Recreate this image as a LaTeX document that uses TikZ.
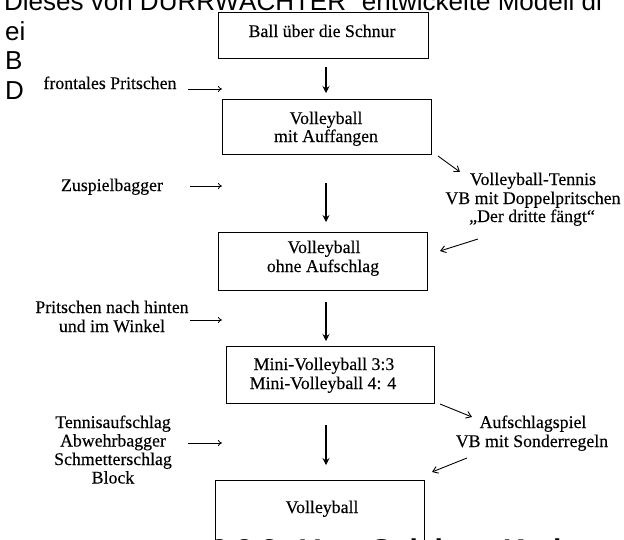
\documentclass[tikz,border=0pt]{standalone}
\usepackage{fontspec}
\setmainfont{Liberation Serif}
\newfontfamily\lblfont{Liberation Serif}[FakeBold=0.25]
\newfontfamily\docsans{Liberation Sans}
\usetikzlibrary{arrows.meta}
\begin{document}
\begin{tikzpicture}[x=1pt,y=-1pt,
  box/.style={draw=black, line width=0.8pt, fill=white, inner sep=0pt, anchor=north west},
  lbl/.style={font=\lblfont\fontsize{17.8}{19}\selectfont, inner sep=0pt, anchor=base},
  doc/.style={font=\docsans\fontsize{26}{30}\selectfont, inner sep=0pt, anchor=base west},
  head/.style={font=\docsans\bfseries\fontsize{30}{34}\selectfont, inner sep=0pt, anchor=base west},
  harr/.style={-{To[length=4pt,width=6pt]}, line width=0.8pt},
  sarr/.style={-{Straight Barb[length=5pt,width=7pt]}, line width=0.9pt},
  darr/.style={-{Stealth[length=7pt,width=7pt,inset=2.5pt]}, line width=1.1pt}
]
\useasboundingbox (0,0) rectangle (624,539);
\clip (0,0) rectangle (624,539);
\fill[white] (0,0) rectangle (624,539);

% text of the surrounding document
\node[doc] (docA) at (4,10.5) {Dieses von DÜRRWÄCHTER“ entwickelte Modell di};
\node[doc] (docB) at (5,40) {ei};
\node[doc] (docC) at (5,69.5) {B};
\node[doc] (docD) at (5,99) {D};

% boxes
\node[box, minimum width=210pt, minimum height=46pt] (b1) at (218,12) {};
\node[box, minimum width=209pt, minimum height=55pt] (b2) at (222,99) {};
\node[box, minimum width=209pt, minimum height=58pt] (b3) at (218,232) {};
\node[box, minimum width=208pt, minimum height=57pt] (b4) at (226,346) {};
\node[box, minimum width=209pt, minimum height=90pt] (b5) at (215,480) {};

% box texts
\node[lbl] (t1) at (322,37) {Ball über die Schnur};
\node[lbl] (t2a) at (326,124) {Volleyball};
\node[lbl] (t2b) at (326,142) {mit Auffangen};
\node[lbl] (t3a) at (324,253) {Volleyball};
\node[lbl] (t3b) at (323,272) {ohne Aufschlag};
\node[lbl] (t4a) at (324,370) {Mini-Volleyball 3:3};
\node[lbl] (t4b) at (323,389) {Mini-Volleyball 4: 4};
\node[lbl] (t5) at (322,513) {Volleyball};

% left labels
\node[lbl] (l1) at (110,89) {frontales Pritschen};
\node[lbl] (l2) at (112,191) {Zuspielbagger};
\node[lbl] (l3a) at (112,313) {Pritschen nach hinten};
\node[lbl] (l3b) at (112,332) {und im Winkel};
\node[lbl] (l4a) at (113,428) {Tennisaufschlag};
\node[lbl] (l4b) at (113,446.5) {Abwehrbagger};
\node[lbl] (l4c) at (113,465) {Schmetterschlag};
\node[lbl] (l4d) at (113,483.5) {Block};

% right labels
\node[lbl] (r1a) at (533,185) {Volleyball-Tennis};
\node[lbl] (r1b) at (533,204) {VB mit Doppelpritschen};
\node[lbl] (r1c) at (532,222) {„Der dritte fängt“};
\node[lbl] (r2a) at (533,428) {Aufschlagspiel};
\node[lbl] (r2b) at (532,447) {VB mit Sonderregeln};

% arrow end points
\coordinate (d1s) at (326,67);  \coordinate (d1e) at (326,93);
\coordinate (d2s) at (326,183); \coordinate (d2e) at (326,222);
\coordinate (d3s) at (326,302); \coordinate (d3e) at (326,341);
\coordinate (d4s) at (326,425); \coordinate (d4e) at (326,465);
\coordinate (h1s) at (188,89);  \coordinate (h1e) at (222,89);
\coordinate (h2s) at (190,186); \coordinate (h2e) at (222,186);
\coordinate (h3s) at (190,320); \coordinate (h3e) at (222,320);
\coordinate (h4s) at (188,443); \coordinate (h4e) at (222,443);
\coordinate (s1s) at (438,156); \coordinate (s1e) at (460,172);
\coordinate (s2s) at (478,239); \coordinate (s2e) at (440,251);
\coordinate (s3s) at (440,404); \coordinate (s3e) at (472,417);
\coordinate (s4s) at (467,458); \coordinate (s4e) at (432,472);

\draw[darr] (d1s) -- (d1e);
\draw[darr] (d2s) -- (d2e);
\draw[darr] (d3s) -- (d3e);
\draw[darr] (d4s) -- (d4e);
\draw[harr] (h1s) -- (h1e);
\draw[harr] (h2s) -- (h2e);
\draw[harr] (h3s) -- (h3e);
\draw[harr] (h4s) -- (h4e);
\draw[sarr] (s1s) -- (s1e);
\draw[sarr] (s2s) -- (s2e);
\draw[sarr] (s3s) -- (s3e);
\draw[sarr] (s4s) -- (s4e);

% heading of the following section, cut by the page edge
\node[head] (hA) at (211,560) {2.3.2};
\node[head] (hB) at (300,560) {Vom Spiel am Kreis zu};
\end{tikzpicture}
\end{document}
